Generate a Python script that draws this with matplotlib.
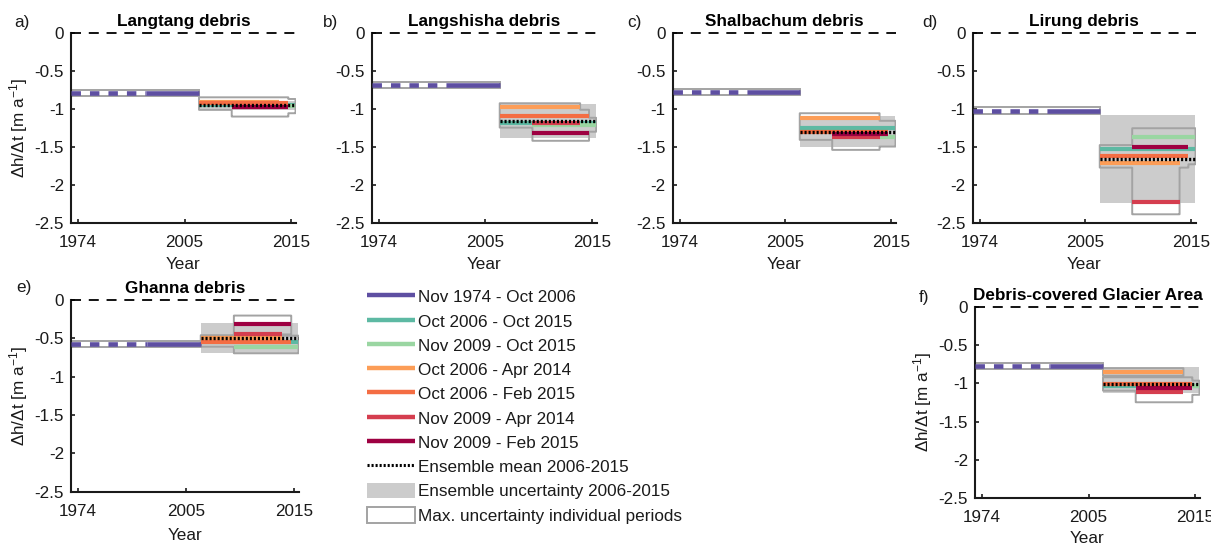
import numpy as np
import matplotlib
matplotlib.use('Agg')
import matplotlib.pyplot as plt
from matplotlib.patches import Rectangle, Patch
from matplotlib.lines import Line2D
from matplotlib.ticker import FixedLocator, FixedFormatter, NullLocator
from matplotlib.transforms import Bbox, TransformedBbox

plt.rcParams['font.family'] = ['Liberation Sans', 'DejaVu Sans']
plt.rcParams['mathtext.fontset'] = 'custom'
plt.rcParams['mathtext.rm'] = 'Liberation Sans'
plt.rcParams['mathtext.it'] = 'Liberation Sans:italic'
plt.rcParams['lines.scale_dashes'] = False

# ---------------- data ----------------
titles = ['Langtang debris', 'Langshisha debris', 'Shalbachum debris',
          'Lirung debris', 'Ghanna debris', 'Debris-covered Glacier Area']
panel_letters = ['a)', 'b)', 'c)', 'd)', 'e)', 'f)']

period_labels = ['Nov 1974 - Oct 2006', 'Oct 2006 - Oct 2015', 'Nov 2009 - Oct 2015',
                 'Oct 2006 - Apr 2014', 'Oct 2006 - Feb 2015', 'Nov 2009 - Apr 2014',
                 'Nov 2009 - Feb 2015']
period_start = [1974.85, 2006.79, 2009.84, 2006.79, 2006.79, 2009.84, 2009.84]
period_end = [2006.79, 2015.79, 2015.79, 2014.29, 2015.12, 2014.29, 2015.12]
period_colors = ['#5E4FA2', '#5DB9A3', '#9AD6A2', '#FC9D57', '#F46D43', '#D53E4F', '#9E0142']
ens_start, ens_end = 2006.79, 2015.79

# mean dh/dt per period [m/a]
vals_a = [-0.783, -0.946, -0.955, -0.910, -0.924, -0.970, -0.969]
vals_b = [-0.682, -1.180, -1.215, -0.968, -1.087, -1.180, -1.310]
vals_c = [-0.779, -1.245, -1.373, -1.113, -1.300, -1.373, -1.330]
vals_d = [-1.025, -1.531, -1.364, -1.716, -1.619, -2.222, -1.496]
vals_e = [-0.574, -0.543, -0.609, -0.500, -0.543, -0.448, -0.313]
vals_f = [-0.766, -1.030, -1.033, -0.845, -1.010, -1.112, -1.064]

# max uncertainty bounds for individual periods
lo_a = [-0.828, -1.006, -1.056, -0.970, -1.012, -1.090, -1.100]
hi_a = [-0.748, -0.886, -0.867, -0.850, -0.845, -0.850, -0.845]
lo_b = [-0.717, -1.245, -1.300, -1.013, -1.164, -1.330, -1.420]
hi_b = [-0.647, -1.115, -1.120, -0.924, -1.010, -1.030, -1.200]
lo_c = [-0.820, -1.335, -1.496, -1.170, -1.408, -1.540, -1.480]
hi_c = [-0.740, -1.155, -1.250, -1.056, -1.192, -1.206, -1.180]
lo_d = [-1.069, -1.600, -1.730, -1.770, -1.774, -2.390, -1.600]
hi_d = [-0.977, -1.480, -1.254, -1.660, -1.476, -1.750, -1.400]
lo_e = [-0.609, -0.610, -0.696, -0.550, -0.609, -0.550, -0.450]
hi_e = [-0.539, -0.465, -0.500, -0.460, -0.465, -0.350, -0.204]
lo_f = [-0.810, -1.095, -1.150, -0.900, -1.090, -1.248, -1.248]
hi_f = [-0.736, -0.963, -0.963, -0.800, -0.920, -0.980, -0.920]

# ensemble mean and uncertainty range 2006-2015
ens_mean = [-0.946, -1.153, -1.298, -1.663, -0.491, -1.011]
ens_lo = [-1.010, -1.377, -1.496, -2.244, -0.696, -1.130]
ens_hi = [-0.900, -0.937, -1.090, -1.078, -0.296, -0.788]

yticks = [0, -0.5, -1, -1.5, -2, -2.5]
ytick_labels = ['0', '-0.5', '-1', '-1.5', '-2', '-2.5']
xtick_years = [1974, 2005, 2015]

all_vals = [vals_a, vals_b, vals_c, vals_d, vals_e, vals_f]
all_lo = [lo_a, lo_b, lo_c, lo_d, lo_e, lo_f]
all_hi = [hi_a, hi_b, hi_c, hi_d, hi_e, hi_f]

# ---------------- axis scale (compressed early period) ----------------
KY = np.array([1974.0, 2005.0, 2006.79, 2015.79])
KP = np.array([0.0, 1.0, 1.135, 2.04])


def _pw(v, xs, ys):
    v = np.asarray(v, dtype=float)
    out = np.interp(v, xs, ys)
    s0 = (ys[1] - ys[0]) / (xs[1] - xs[0])
    s1 = (ys[-1] - ys[-2]) / (xs[-1] - xs[-2])
    out = np.where(v < xs[0], ys[0] + (v - xs[0]) * s0, out)
    out = np.where(v > xs[-1], ys[-1] + (v - xs[-1]) * s1, out)
    return out


def fwd(v):
    return _pw(v, KY, KP)


def inv(p):
    return _pw(p, KP, KY)


XL = (float(inv(-0.065)), float(inv(2.045)))
TICK_POS = [float(inv(0.0)), float(inv(1.0)), float(inv(2.0))]
DASH_END = float(inv(0.636))

# ---------------- layout ----------------
W, H = 1223, 549
rects_px = [(71, 296, 33.3, 222.7), (371.7, 596.7, 33.3, 222.7),
            (672.7, 896, 33.3, 222.7), (972.7, 1196, 33.3, 222.7),
            (71, 299, 300, 491.7), (975, 1200, 307.3, 497.7)]
letter_px = [(14, 27), (322.7, 27), (627.7, 27), (922.3, 27), (16.7, 291.7), (919, 301.7)]
ylabel_on = [True, False, False, False, True, True]
xlabel_off = [0.223, 0.223, 0.223, 0.223, 0.226, 0.213]

FS = 12.3
TXT = '#1a1a1a'
BOX_EDGE = '#a3a3a3'
ENS_GRAY = '#cccccc'
LW = 3.0

fig = plt.figure(figsize=(W / 100, H / 100), dpi=100)

for i in range(6):
    l, r, t, b = rects_px[i]
    ax = fig.add_axes([l / W, 1 - b / H, (r - l) / W, (b - t) / H])
    ax.set_xscale('function', functions=(fwd, inv))
    vals, lo, hi = all_vals[i], all_lo[i], all_hi[i]

    # ensemble uncertainty
    ax.fill_between([ens_start, ens_end], [ens_lo[i]] * 2, [ens_hi[i]] * 2,
                    color=ENS_GRAY, lw=0, zorder=1)

    # max uncertainty of first period
    ax.add_patch(Rectangle((XL[0] - 5, lo[0]), period_end[0] - XL[0] + 5, hi[0] - lo[0],
                           facecolor='none', edgecolor=BOX_EDGE, lw=1.4, zorder=2))
    # union outline of 2006-2015 period boxes
    xs = np.arange(2005.5, 2017.0, 0.01)
    ys = np.arange(-2.7, 0.2, 0.002)
    X, Y = np.meshgrid(xs, ys)
    M = np.zeros_like(X)
    for k in range(1, 7):
        M[(X >= period_start[k]) & (X <= period_end[k]) & (Y >= lo[k]) & (Y <= hi[k])] = 1
    ax.contour(X, Y, M, levels=[0.5], colors=BOX_EDGE, linewidths=1.4, zorder=2)

    # first period line: dashed part then solid part
    ax.plot([XL[0], DASH_END], [vals[0]] * 2, color=period_colors[0], lw=LW + 0.3,
            dashes=(6.8, 6.5), dash_capstyle='butt', zorder=4)
    ax.plot([DASH_END, period_end[0]], [vals[0]] * 2, color=period_colors[0], lw=LW + 0.3,
            solid_capstyle='butt', zorder=4)
    for k in range(1, 7):
        ax.plot([period_start[k], period_end[k]], [vals[k]] * 2, color=period_colors[k],
                lw=LW, solid_capstyle='butt', zorder=4)
    # ensemble mean
    ax.plot([ens_start, ens_end], [ens_mean[i]] * 2, color='black', lw=2.4,
            dashes=(1.5, 1.4), dash_capstyle='butt', zorder=5)

    # zero line
    ax.axhline(0, color='black', lw=1.3, dashes=(7.2, 5.6), clip_on=False, zorder=6)

    ax.set_xlim(*XL)
    ax.set_ylim(-2.5, 0)
    for s in ['top', 'right']:
        ax.spines[s].set_visible(False)
    for s in ['left', 'bottom']:
        ax.spines[s].set_linewidth(1.5)
        ax.spines[s].set_color('#1a1a1a')
    ax.xaxis.set_major_locator(FixedLocator(TICK_POS))
    ax.xaxis.set_major_formatter(FixedFormatter([str(y) for y in xtick_years]))
    ax.xaxis.set_minor_locator(NullLocator())
    ax.set_yticks(yticks)
    ax.set_yticklabels(ytick_labels)
    ax.tick_params(axis='both', direction='in', length=3, width=1.2, colors='#1a1a1a',
                   labelsize=FS, labelcolor=TXT)
    ax.tick_params(axis='x', pad=9)
    ax.tick_params(axis='y', pad=5)
    ax.set_xlabel('Year', fontsize=FS, color=TXT)
    ax.xaxis.set_label_coords(0.5, -xlabel_off[i])
    ax.xaxis.label.set_va('center')
    if ylabel_on[i]:
        ax.set_ylabel('\u0394h/\u0394t [m a$^{-1}$]', fontsize=FS, color=TXT)
        ax.yaxis.set_label_coords(-52 / (r - l), 0.5)
        ax.yaxis.label.set_va('center')
    ax.set_title(titles[i], fontsize=FS, fontweight='bold', color='black', pad=5.3)
    lx, ly = letter_px[i]
    fig.text(lx / W, 1 - ly / H, panel_letters[i], fontsize=FS, color=TXT,
             ha='left', va='baseline')
    if i == 5:
        # the original figure is cropped at the right, cutting the last tick label
        clip = TransformedBbox(Bbox([[0, 0], [1211 / W, 1]]), fig.transFigure)
        for tk in ax.xaxis.get_major_ticks():
            tk.label1.set_clip_on(True)
            tk.label1.set_clip_box(clip)

# ---------------- legend ----------------
handles = [Line2D([0], [0], color=c, lw=LW + 0.2, solid_capstyle='butt') for c in period_colors]
handles.append(Line2D([0], [0], color='black', lw=2.2, dashes=(1.5, 1.4), dash_capstyle='butt'))
handles.append(Patch(facecolor=ENS_GRAY, edgecolor='none'))
handles.append(Patch(facecolor='white', edgecolor=BOX_EDGE, lw=1.4))
labels = period_labels + ['Ensemble mean 2006-2015', 'Ensemble uncertainty 2006-2015',
                          'Max. uncertainty individual periods']
fig.legend(handles, labels, loc='upper left', bbox_to_anchor=(366.7 / W, 1 - 288.5 / H),
           frameon=False, fontsize=FS, handlelength=2.85, handleheight=1.05,
           handletextpad=0.18, labelspacing=0.44, borderpad=0, borderaxespad=0,
           labelcolor=TXT)

fig.savefig('out.png', dpi=100)
